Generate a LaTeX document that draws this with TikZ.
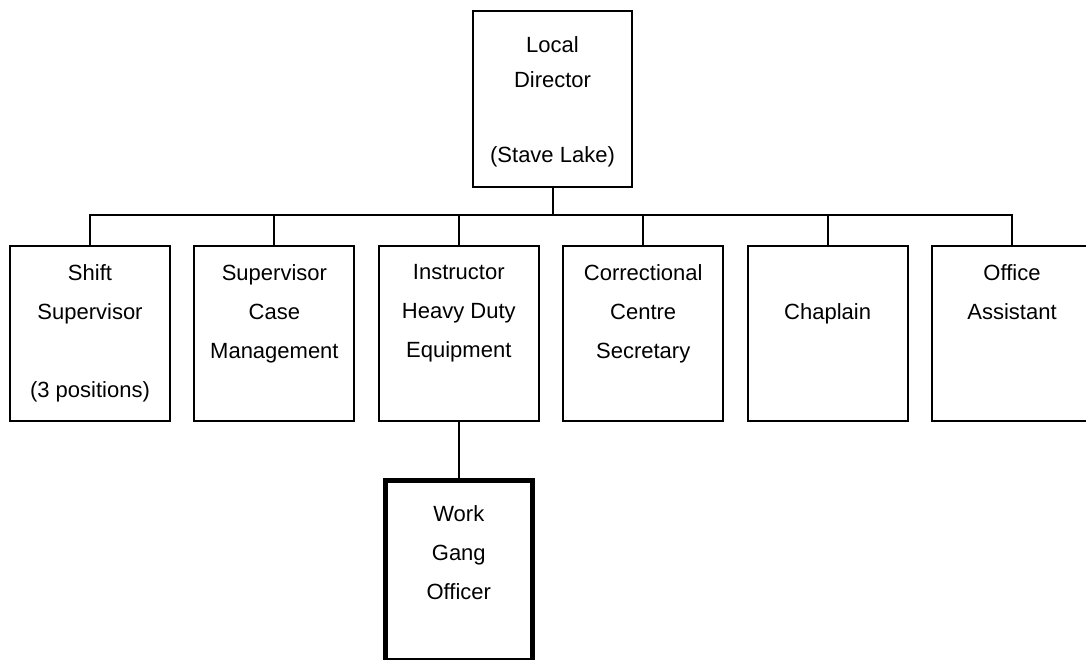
\documentclass[tikz,border=0pt]{standalone}
\usepackage{fontspec}
\setmainfont{Liberation Sans}
\usetikzlibrary{positioning}

\begin{document}
\begin{tikzpicture}[
  x=1pt, y=-1pt,
  font=\fontsize{22}{39}\selectfont,
  node distance=56pt and 22.4pt,
  post/.style={
    rectangle,
    draw=black,
    line width=2pt,
    minimum width=160pt,
    minimum height=175pt,
    inner sep=0pt
  },
  ttl/.style={anchor=north, align=center, inner sep=0pt, yshift=#1},
  ttl/.default=-19pt,
  link/.style={line width=2pt, draw=black}
]
  \useasboundingbox (0,0) rectangle (1086,659);

  \node[post, minimum width=159pt, minimum height=176pt,
    label={[ttl=-26pt, font=\fontsize{22}{35}\selectfont]north:Local\\Director\\[40pt](Stave Lake)}]
    (dir) at (552.5,99) {};

  \node[post, label={[ttl]north:Shift\\Supervisor\\[39pt](3 positions)}] (shift) at (90,333.5) {};
  \node[post, right=of shift, label={[ttl]north:Supervisor\\Case\\Management}] (casemgr) {};
  \node[post, right=of casemgr, label={[ttl]north:Instructor\\Heavy Duty\\Equipment}] (instr) {};
  \node[post, right=of instr, label={[ttl]north:Correctional\\Centre\\Secretary}] (secr) {};
  \node[post, right=of secr, label={[ttl=-58pt]north:Chaplain}] (chap) {};
  \node[post, right=of chap, label={[ttl]north:Office\\Assistant}] (office) {};

  % bottom edge runs off the page
  \node[post, line width=5pt, minimum width=147pt, minimum height=180pt, below=of instr,
    label={[ttl=-27pt]north:Work\\Gang\\Officer}] (work) {};

  \coordinate (bus) at ([yshift=-27pt]dir.south);
  \foreach \n in {shift,casemgr,instr,secr,chap,office}
    \draw[link] (dir.south) -- (bus) -| (\n.north);
  \draw[link] (instr.south) -- (work.north);
\end{tikzpicture}
\end{document}
